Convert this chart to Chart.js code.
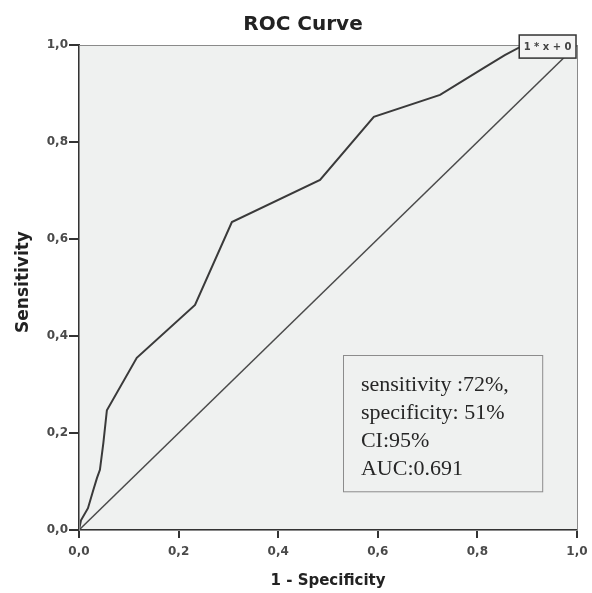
<!DOCTYPE html>
<html><head><meta charset="utf-8">
<script src="https://cdn.jsdelivr.net/npm/chart.js@4/dist/chart.umd.min.js"></script>
<style>html,body{margin:0;padding:0;background:#fff}#w{width:592px;height:593px}</style>
</head><body><div id="w"><canvas id="c"></canvas></div>
<script>
const rocX = [0, 0.004, 0.018, 0.028, 0.036, 0.042, 0.049, 0.056, 0.116, 0.233, 0.307, 0.484, 0.592, 0.725, 0.813, 0.855, 0.886, 1.0];
const rocY = [0, 0.02, 0.045, 0.08, 0.107, 0.124, 0.18, 0.247, 0.355, 0.464, 0.635, 0.722, 0.852, 0.897, 0.953, 0.979, 0.996, 1.0];
const refX = [0, 1];
const refY = [0, 1];
const tickValues = [0, 0.2, 0.4, 0.6, 0.8, 1.0];
const infoLines = ["sensitivity :72%,", "specificity: 51%", "CI:95%", "AUC:0.691"];
const refLabel = "1 * x + 0";
const titleText = "ROC Curve";
const xTitle = "1 - Specificity";
const yTitle = "Sensitivity";

const fmt = v => v.toFixed(1).replace('.', ',');
const SANS = '"DejaVu Sans", Verdana, sans-serif';

const deco = {
  id: 'deco',
  beforeDraw(chart) {
    const {ctx, chartArea: a} = chart;
    ctx.save();
    ctx.fillStyle = '#eff1f0';
    ctx.fillRect(a.left, a.top, a.right - a.left, a.bottom - a.top);
    ctx.restore();
  },
  afterDatasetsDraw(chart) {
    const {ctx, chartArea: a, scales: {x, y}} = chart;
    ctx.save();
    ctx.strokeStyle = '#8a8a8a';
    ctx.lineWidth = 1;
    ctx.strokeRect(a.left + 0.5, a.top + 0.5, a.right - a.left, a.bottom - a.top);
    // info box
    const bx0 = x.getPixelForValue(0.530), bx1 = x.getPixelForValue(0.930);
    const by0 = y.getPixelForValue(0.361), by1 = y.getPixelForValue(0.080);
    ctx.fillStyle = '#eff1f0';
    ctx.fillRect(bx0, by0, bx1 - bx0, by1 - by0);
    ctx.strokeStyle = '#8c8c8c';
    ctx.strokeRect(Math.round(bx0) + 0.5, Math.round(by0) + 0.5, bx1 - bx0, by1 - by0);
    ctx.fillStyle = '#262626';
    ctx.font = '22px "Liberation Serif", serif';
    ctx.textBaseline = 'alphabetic';
    ctx.textAlign = 'left';
    infoLines.forEach((t, i) => ctx.fillText(t, bx0 + 18, by0 + 36 + i * 28));
    // reference line label
    const lx0 = x.getPixelForValue(0.884), lx1 = x.getPixelForValue(0.998);
    const ly0 = y.getPixelForValue(1.0206), ly1 = y.getPixelForValue(0.973);
    ctx.fillStyle = '#f4f4f4';
    ctx.fillRect(lx0, ly0, lx1 - lx0, ly1 - ly0);
    ctx.strokeStyle = '#333';
    ctx.lineWidth = 1.5;
    ctx.strokeRect(lx0, ly0, lx1 - lx0, ly1 - ly0);
    ctx.fillStyle = '#444';
    ctx.font = 'bold 10px ' + SANS;
    ctx.textAlign = 'center';
    ctx.textBaseline = 'middle';
    ctx.fillText(refLabel, (lx0 + lx1) / 2, (ly0 + ly1) / 2 + 1);
    // title
    ctx.fillStyle = '#222';
    ctx.textBaseline = 'alphabetic';
    ctx.font = 'bold 20px ' + SANS;
    ctx.fillText(titleText, 303, 30);
    // x axis title
    ctx.font = 'bold 15px ' + SANS;
    ctx.textBaseline = 'middle';
    ctx.fillText(xTitle, (a.left + a.right) / 2, 581);
    // y axis title
    ctx.translate(24, 282);
    ctx.rotate(-Math.PI / 2);
    ctx.font = 'bold 17px ' + SANS;
    ctx.fillText(yTitle, 0, 0);
    ctx.restore();
  }
};

new Chart(document.getElementById('c'), {
  type: 'scatter',
  data: {
    datasets: [
      {data: rocX.map((v, i) => ({x: v, y: rocY[i]})), showLine: true, borderColor: '#3a3a3a', borderWidth: 2, pointRadius: 0, tension: 0},
      {data: refX.map((v, i) => ({x: v, y: refY[i]})), showLine: true, borderColor: '#4a4a4a', borderWidth: 1.5, pointRadius: 0}
    ]
  },
  plugins: [deco],
  options: {
    responsive: true, maintainAspectRatio: false, animation: false,
    layout: {padding: {top: 45, right: 15, left: 0, bottom: 0}},
    plugins: {legend: {display: false}, tooltip: {enabled: false}, title: {display: false}},
    scales: {
      x: {
        type: 'linear', min: 0, max: 1,
        afterBuildTicks: s => { s.ticks = tickValues.map(v => ({value: v})); },
        afterFit: s => { s.height = 63; s.paddingLeft = 0; s.paddingRight = 0; },
        ticks: {callback: v => fmt(v), color: '#4a4a4a', font: {size: 12, weight: 'bold', family: SANS}, padding: 7, maxRotation: 0},
        grid: {drawOnChartArea: false, tickLength: 8, color: '#333', lineWidth: 2},
        border: {color: '#333', width: 2}
      },
      y: {
        type: 'linear', min: 0, max: 1,
        afterBuildTicks: s => { s.ticks = tickValues.map(v => ({value: v})); },
        afterFit: s => { s.width = 79; s.paddingTop = 0; s.paddingBottom = 0; },
        ticks: {callback: v => fmt(v), color: '#4a4a4a', font: {size: 12, weight: 'bold', family: SANS}, padding: 1},
        grid: {drawOnChartArea: false, tickLength: 10, color: '#333', lineWidth: 2},
        border: {color: '#333', width: 2}
      }
    }
  }
});
</script></body></html>
